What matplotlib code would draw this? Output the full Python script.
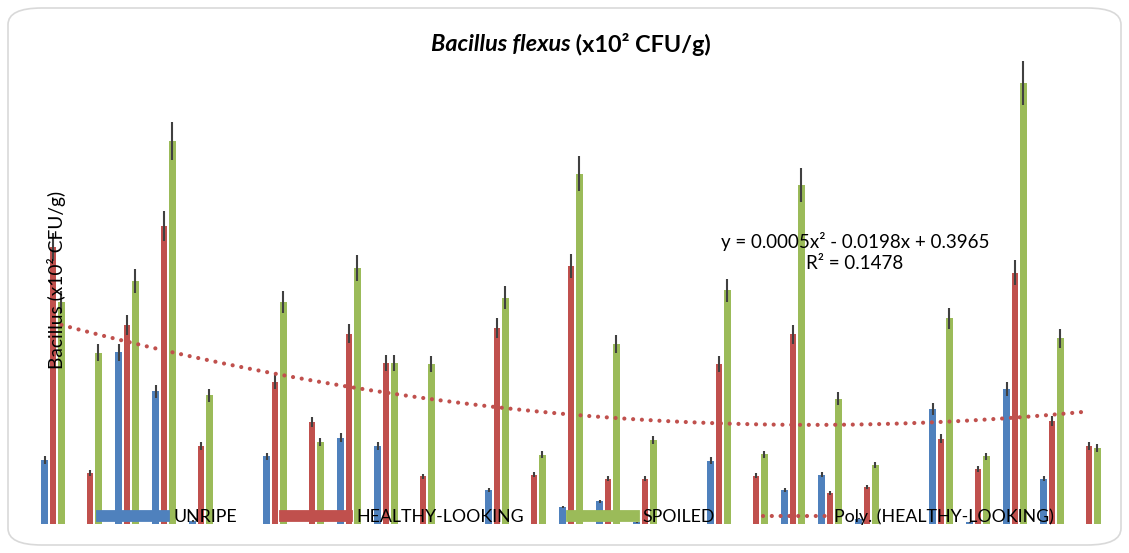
import numpy as np
import matplotlib.pyplot as plt
from matplotlib.lines import Line2D
from matplotlib.patches import FancyBboxPatch

plt.rcParams['font.family'] = ['Lato', 'DejaVu Sans']

# Valores (x10^2 CFU/g), 29 amostras
amostras = np.arange(1, 30)
unripe = [0.128, 0, 0.344, 0.266, 0.006, 0, 0.136, 0, 0.173, 0.156,
          0, 0, 0.069, 0, 0.034, 0.046, 0.004, 0, 0.127, 0,
          0.069, 0.099, 0.011, 0, 0.230, 0.004, 0.271, 0.091, 0]
healthy = [0.554, 0.103, 0.399, 0.597, 0.156, 0, 0.285, 0.205, 0.381, 0.323,
           0.096, 0, 0.392, 0.099, 0.517, 0.091, 0.091, 0, 0.321, 0.097,
           0.380, 0.062, 0.074, 0, 0.171, 0.111, 0.503, 0.206, 0.156]
spoiled = [0.445, 0.343, 0.487, 0.766, 0.258, 0, 0.445, 0.164, 0.512, 0.323,
           0.321, 0, 0.453, 0.139, 0.701, 0.360, 0.168, 0, 0.468, 0.140,
           0.679, 0.251, 0.118, 0, 0.412, 0.136, 0.882, 0.372, 0.152]
err_unripe = [0.008, 0, 0.017, 0.013, 0.002, 0, 0.007, 0, 0.009, 0.008,
              0, 0, 0.004, 0, 0.002, 0.003, 0.001, 0, 0.007, 0,
              0.004, 0.005, 0.001, 0, 0.012, 0.001, 0.014, 0.005, 0]
err_healthy = [0.028, 0.006, 0.020, 0.030, 0.008, 0, 0.014, 0.010, 0.019, 0.016,
               0.005, 0, 0.020, 0.005, 0.024, 0.005, 0.005, 0, 0.016, 0.005,
               0.019, 0.004, 0.004, 0, 0.009, 0.006, 0.025, 0.010, 0.008]
err_spoiled = [0.022, 0.017, 0.024, 0.038, 0.013, 0, 0.022, 0.008, 0.026, 0.016,
               0.016, 0, 0.023, 0.007, 0.035, 0.018, 0.008, 0, 0.023, 0.007,
               0.034, 0.013, 0.006, 0, 0.021, 0.007, 0.044, 0.019, 0.008]

series = ['UNRIPE', 'HEALTHY-LOOKING', 'SPOILED']
cores = ['#4F81BD', '#C0504D', '#9BBB59']
equacao = 'y = 0.0005x² - 0.0198x + 0.3965'
r2_texto = 'R² = 0.1478'

fig = plt.figure(figsize=(11.29, 5.53), dpi=100)

# moldura arredondada
moldura = FancyBboxPatch((8 / 1129, 8 / 553), 1113 / 1129, 537 / 553,
                         boxstyle='round,pad=0,rounding_size=0.03',
                         transform=fig.transFigure, facecolor='none',
                         edgecolor='#D9D9D9', linewidth=1.2, zorder=-1)
fig.patches.append(moldura)

ax = fig.add_axes([34.5 / 1129, (553 - 524) / 553, 1073 / 1129, 464 / 553])
ax.patch.set_alpha(0)

largura = 0.18
desloc = 0.225
dados = [unripe, healthy, spoiled]
erros = [err_unripe, err_healthy, err_spoiled]
for k in range(3):
    x = amostras + (k - 1) * desloc
    ax.bar(x, dados[k], width=largura, color=cores[k], linewidth=0)
    ax.errorbar(x, dados[k], yerr=erros[k], fmt='none', ecolor='#404040',
                elinewidth=1.5, capsize=0)

# Linha de tendencia polinomial (grau 2) da serie HEALTHY-LOOKING
# (celulas vazias ficam fora do ajuste, como no Excel)
h = np.array(healthy)
ok = h > 0
coef = np.polyfit(amostras[ok], h[ok], 2)
xs = np.linspace(amostras[0], amostras[-1], 300)
ax.plot(xs, np.polyval(coef, xs), color='#C0504D', linewidth=3,
        linestyle=(0, (0.01, 2.1)), dash_capstyle='round')

ax.set_xlim(0.5, 29.5)
ax.set_ylim(0, 0.928)
ax.axis('off')

ax.text(0.7647, 0.586, equacao + '\n' + r2_texto, transform=ax.transAxes,
        ha='center', va='center', fontsize=13.5, linespacing=1.3)

# Titulo: parte em negrito italico + parte em negrito
t1 = fig.text(0.5, 1 - 45 / 553, 'Bacillus flexus', fontsize=16.8,
              fontweight='bold', fontstyle='italic', ha='left', va='center')
t2 = fig.text(0.5, 1 - 45 / 553, ' (x10² CFU/g)', fontsize=16.8,
              fontweight='bold', ha='left', va='center')
fig.canvas.draw()
r = fig.canvas.get_renderer()
w1 = t1.get_window_extent(r).width
w2 = t2.get_window_extent(r).width
x0 = 571 - (w1 + w2) / 2
t1.set_x(x0 / 1129)
t2.set_x((x0 + w1) / 1129)

fig.text(57 / 1129, 1 - 280 / 553, 'Bacillus (x10² CFU/g)', rotation=90,
         ha='center', va='center', fontsize=13.8)

handles = [Line2D([], [], color=cores[0], linewidth=8.5),
           Line2D([], [], color=cores[1], linewidth=8.5),
           Line2D([], [], color=cores[2], linewidth=8.5),
           Line2D([], [], color='#C0504D', linewidth=3,
                  linestyle=(0, (0.01, 2.1)), dash_capstyle='round')]
rotulos = series + ['Poly. (HEALTHY-LOOKING)']
fig.legend(handles, rotulos, loc='center', bbox_to_anchor=(578 / 1129, 1 - 517 / 553),
           ncol=4, frameon=False, fontsize=12.8, handlelength=3.5,
           handletextpad=0.5, columnspacing=2.7)

fig.savefig('out.png', dpi=100)
